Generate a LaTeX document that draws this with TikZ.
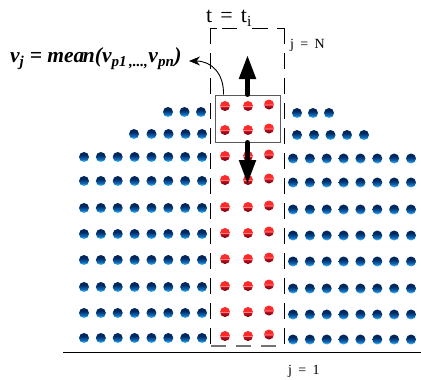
\documentclass[tikz,border=0pt]{standalone}
\usepackage{fontspec}
\setmainfont{Liberation Serif}
\newfontfamily\tnr{Liberation Serif}
\usetikzlibrary{arrows.meta}
\definecolor{bbot}{HTML}{40C0F8}
\definecolor{bmid}{HTML}{1068B8}
\definecolor{btop}{HTML}{00285E}
\definecolor{rtop}{HTML}{FF2A2A}
\definecolor{rhl}{HTML}{FF9A9A}
\definecolor{rmid}{HTML}{C81020}
\definecolor{rbot}{HTML}{6A0008}
\pgfdeclareverticalshading{blueball}{100bp}{color(0bp)=(bbot); color(27bp)=(bbot); color(40bp)=(bmid); color(60bp)=(btop); color(100bp)=(btop)}
\pgfdeclareverticalshading{redball}{100bp}{color(0bp)=(rbot); color(27bp)=(rbot); color(45bp)=(rmid); color(49bp)=(rhl); color(53bp)=(rtop); color(100bp)=(rtop)}
\begin{document}
\begin{tikzpicture}[x=1pt,y=-1pt,
  bluedot/.style={shading=blueball},
  reddot/.style={shading=redball},
  dashline/.style={line width=1pt, dash pattern=on 16pt off 9pt},
  thickarrow/.style={line width=5pt, line cap=round, -{Triangle[length=24pt,width=16pt]}},
  thinarrow/.style={line width=0.9pt, -{Stealth[length=11pt,width=9pt]}},
  lbl/.style={anchor=base west, inner sep=0pt}]
\useasboundingbox (0,0) rectangle (421,380);
% blue dots
\foreach \x in {168,184.5,201} {\shade[bluedot] (\x,112) circle (5);}
\foreach \x in {297,313,329} {\shade[bluedot] (\x,113) circle (5);}
\foreach \x in {134,151.5,168.5,185.5,202} {\shade[bluedot] (\x,134) circle (5);}
\foreach \x in {297,314,330.5,347,364} {\shade[bluedot] (\x,135) circle (5);}
\foreach \y in {157,181,208,234,260,287,313,338} {
  \foreach \i in {0,...,7} {
    \shade[bluedot] (84+16.86*\i,\y) circle (5);
    \shade[bluedot] (293+16.86*\i,\y+1.5) circle (5);
  }
}
% red dots
\foreach \y in {106,130,156,180,207,233,259,286,312,336} {
  \shade[reddot] (225,\y) circle (5);
  \shade[reddot] (248,\y) circle (5);
  \shade[reddot] (269,\y-1.5) circle (5);
}
% box
\node[draw=black!65, line width=1pt, minimum width=65pt, minimum height=47pt, inner sep=0pt] (box) at (247.5,118.5) {};
% dashed frame
\coordinate (tl) at (210,28);
\coordinate (tr) at (284,28);
\coordinate (bl) at (210,346);
\coordinate (br) at (284,346);
\draw[dashline] (tl) -- (bl);
\draw[dashline] (tr) -- (br);
\draw[line width=1pt, dash pattern=on 7pt off 5pt on 15pt off 15pt on 16pt off 9pt on 8pt] (tl) -- (tr);
\draw[black!55, line width=1.2pt, dash pattern=on 15pt off 10pt] ([xshift=1pt]bl) -- (br);
% base line
\coordinate (gl) at (63,352.5);
\coordinate (gr) at (421,352.5);
\draw[line width=1pt] (gl) -- (gr);
% thick arrows
\coordinate (uptip) at (247.5,55);
\coordinate (dntip) at (247.5,184);
\draw[thickarrow] (box.north) -- (uptip);
\draw[thickarrow] (box.south) -- (dntip);
% labels
\node[lbl, font=\tnr\fontsize{21.5}{26}\selectfont\bfseries\itshape] (formula) at (10,63)
  {v\textsubscript{j} = mea\kern-1.5pt n(v\textsubscript{p1\,,...,}v\textsubscript{pn})};
\node[lbl, font=\tnr\fontsize{22}{26}\selectfont] (tlabel) at (206,23) {t\hspace{0.37em}=\hspace{0.37em}t\textsubscript{i}};
\node[lbl, font=\tnr\fontsize{14}{17}\selectfont] (jN) at (290,48) {j\hspace{0.45em}=\hspace{0.45em}N};
\node[lbl, font=\tnr\fontsize{14}{17}\selectfont] (j1) at (288,374) {j\hspace{0.45em}=\hspace{0.45em}1};
% curved arrow
\coordinate (cs) at ([xshift=9pt]box.north west);
\coordinate (ftip) at (189,61);
\draw[thinarrow] (cs) .. controls (224,74) and (212,61) .. (ftip);
\end{tikzpicture}
\end{document}
